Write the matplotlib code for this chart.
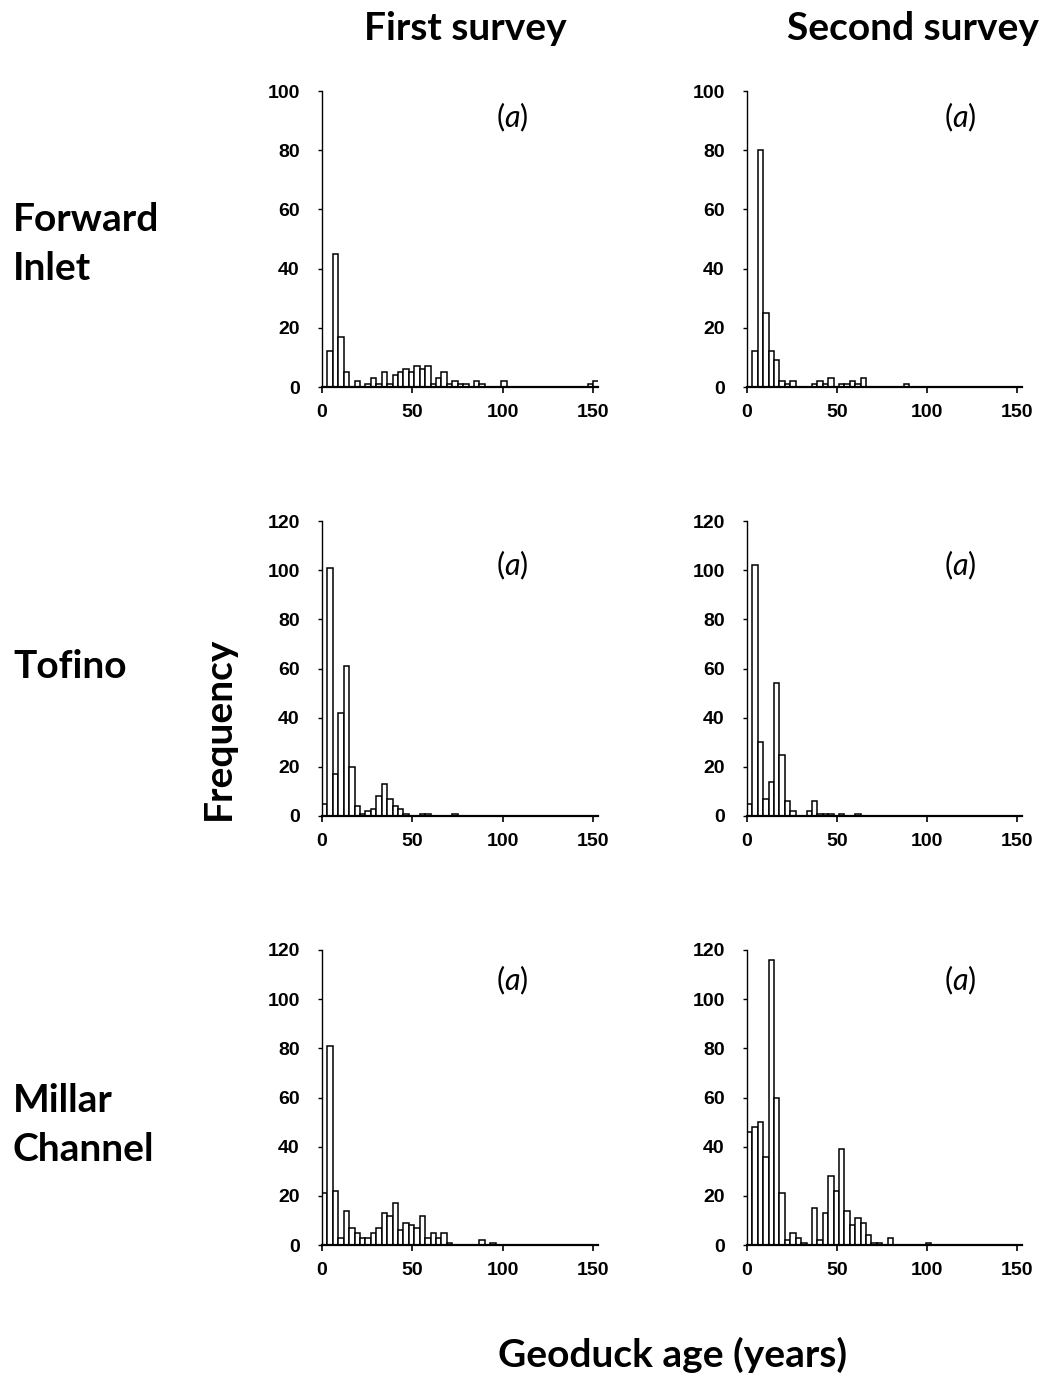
#!/usr/bin/env python3
"""Geoduck age-frequency histograms: three sites, first and second survey."""

import matplotlib

matplotlib.use("Agg")
import matplotlib.pyplot as plt
import numpy as np

# age classes are 3 years wide, left edges 0, 3, ..., 150
BIN_WIDTH = 3
AGE_CLASS_START = np.arange(0, 153, BIN_WIDTH)

# counts per age class (51 classes each)
FORWARD_FIRST = [0, 12, 45, 17, 5, 0, 2, 0, 1, 3,
                 1, 5, 1, 4, 5, 6, 5, 7, 6, 7,
                 1, 3, 5, 1, 2, 1, 1, 0, 2, 1,
                 0, 0, 0, 2, 0, 0, 0, 0, 0, 0,
                 0, 0, 0, 0, 0, 0, 0, 0, 0, 1,
                 2]
FORWARD_SECOND = [0, 12, 80, 25, 12, 9, 2, 1, 2, 0,
                  0, 0, 1, 2, 1, 3, 0, 1, 1, 2,
                  1, 3, 0, 0, 0, 0, 0, 0, 0, 1,
                  0, 0, 0, 0, 0, 0, 0, 0, 0, 0,
                  0, 0, 0, 0, 0, 0, 0, 0, 0, 0,
                  0]
TOFINO_FIRST = [5, 101, 17, 42, 61, 20, 4, 1, 2, 3,
                8, 13, 7, 4, 3, 1, 0, 0, 1, 1,
                0, 0, 0, 0, 1, 0, 0, 0, 0, 0,
                0, 0, 0, 0, 0, 0, 0, 0, 0, 0,
                0, 0, 0, 0, 0, 0, 0, 0, 0, 0,
                0]
TOFINO_SECOND = [5, 102, 30, 7, 14, 54, 25, 6, 2, 0,
                 0, 2, 6, 1, 1, 1, 0, 1, 0, 0,
                 1, 0, 0, 0, 0, 0, 0, 0, 0, 0,
                 0, 0, 0, 0, 0, 0, 0, 0, 0, 0,
                 0, 0, 0, 0, 0, 0, 0, 0, 0, 0,
                 0]
MILLAR_FIRST = [21, 81, 22, 3, 14, 7, 5, 3, 3, 5,
                7, 13, 12, 17, 6, 9, 8, 7, 12, 3,
                5, 3, 5, 1, 0, 0, 0, 0, 0, 2,
                0, 1, 0, 0, 0, 0, 0, 0, 0, 0,
                0, 0, 0, 0, 0, 0, 0, 0, 0, 0,
                0]
MILLAR_SECOND = [46, 48, 50, 36, 116, 60, 21, 2, 5, 3,
                 1, 0, 15, 2, 13, 28, 22, 39, 14, 8,
                 11, 9, 4, 1, 1, 0, 3, 0, 0, 0,
                 0, 0, 0, 1, 0, 0, 0, 0, 0, 0,
                 0, 0, 0, 0, 0, 0, 0, 0, 0, 0,
                 0]

SITES = ["Forward\nInlet", "Tofino", "Millar\nChannel"]
SURVEYS = ["First survey", "Second survey"]
COUNTS = [
    [FORWARD_FIRST, FORWARD_SECOND],
    [TOFINO_FIRST, TOFINO_SECOND],
    [MILLAR_FIRST, MILLAR_SECOND],
]
Y_MAX = [100, 120, 120]
X_TICKS = [0, 50, 100, 150]
PANEL_TAG = r"($\mathit{a}$)"

W, H = 1046, 1378
HEAD_FONT = "Lato"
TICK_FONT = "Liberation Sans"

# panel boxes in pixels: left, top, right, bottom
COL_X = [(322, 598), (747, 1022)]
ROW_Y = [(91, 387), (521, 816), (950, 1245)]
TAG_Y = [0.912, 0.851, 0.898]
TAG_X = [0.69, 0.775]


def fx(px):
    return px / W


def fy(py):
    return 1 - py / H


def main():
    plt.rcParams["mathtext.fontset"] = "custom"
    plt.rcParams["mathtext.rm"] = HEAD_FONT
    plt.rcParams["mathtext.it"] = HEAD_FONT + ":italic"

    fig = plt.figure(figsize=(W / 100, H / 100), dpi=100)

    for r, (top, bot) in enumerate(ROW_Y):
        for c, (left, right) in enumerate(COL_X):
            ax = fig.add_axes([fx(left), fy(bot), fx(right - left), (bot - top) / H])
            ax.bar(AGE_CLASS_START, COUNTS[r][c], width=BIN_WIDTH, align="edge",
                   color="white", edgecolor="black", linewidth=1.1)
            ax.set_xlim(0, 152.5)
            ax.set_ylim(0, Y_MAX[r])
            ax.set_xticks(X_TICKS)
            ax.set_yticks(np.arange(0, Y_MAX[r] + 1, 20))
            for s in ("top", "right"):
                ax.spines[s].set_visible(False)
            ax.spines["left"].set_linewidth(1.0)
            ax.spines["bottom"].set_linewidth(1.6)
            ax.tick_params(axis="y", direction="out", length=3, width=1.0, pad=13)
            ax.tick_params(axis="x", direction="out", length=4, width=1.2, pad=8)
            for lab in ax.get_xticklabels() + ax.get_yticklabels():
                lab.set_fontfamily(TICK_FONT)
                lab.set_fontweight("bold")
                lab.set_fontsize(14)
            ax.text(TAG_X[c], TAG_Y[r], PANEL_TAG, transform=ax.transAxes,
                    ha="center", va="center", fontsize=22, family=HEAD_FONT)

    head = dict(family=HEAD_FONT, fontweight="bold", fontsize=28)
    fig.text(fx(465), fy(28), SURVEYS[0], ha="center", va="center", **head)
    fig.text(fx(913), fy(28), SURVEYS[1], ha="center", va="center", **head)

    for name, yc in zip(SITES, [244, 667, 1125]):
        fig.text(fx(13), fy(yc), name, ha="left", va="center", linespacing=1.5, **head)

    fig.text(fx(218), fy(728), "Frequency", rotation=90, ha="center", va="center", **head)
    fig.text(fx(673), fy(1355), "Geoduck age (years)", ha="center", va="center", **head)

    fig.savefig("out.png", dpi=100)


if __name__ == "__main__":
    main()
